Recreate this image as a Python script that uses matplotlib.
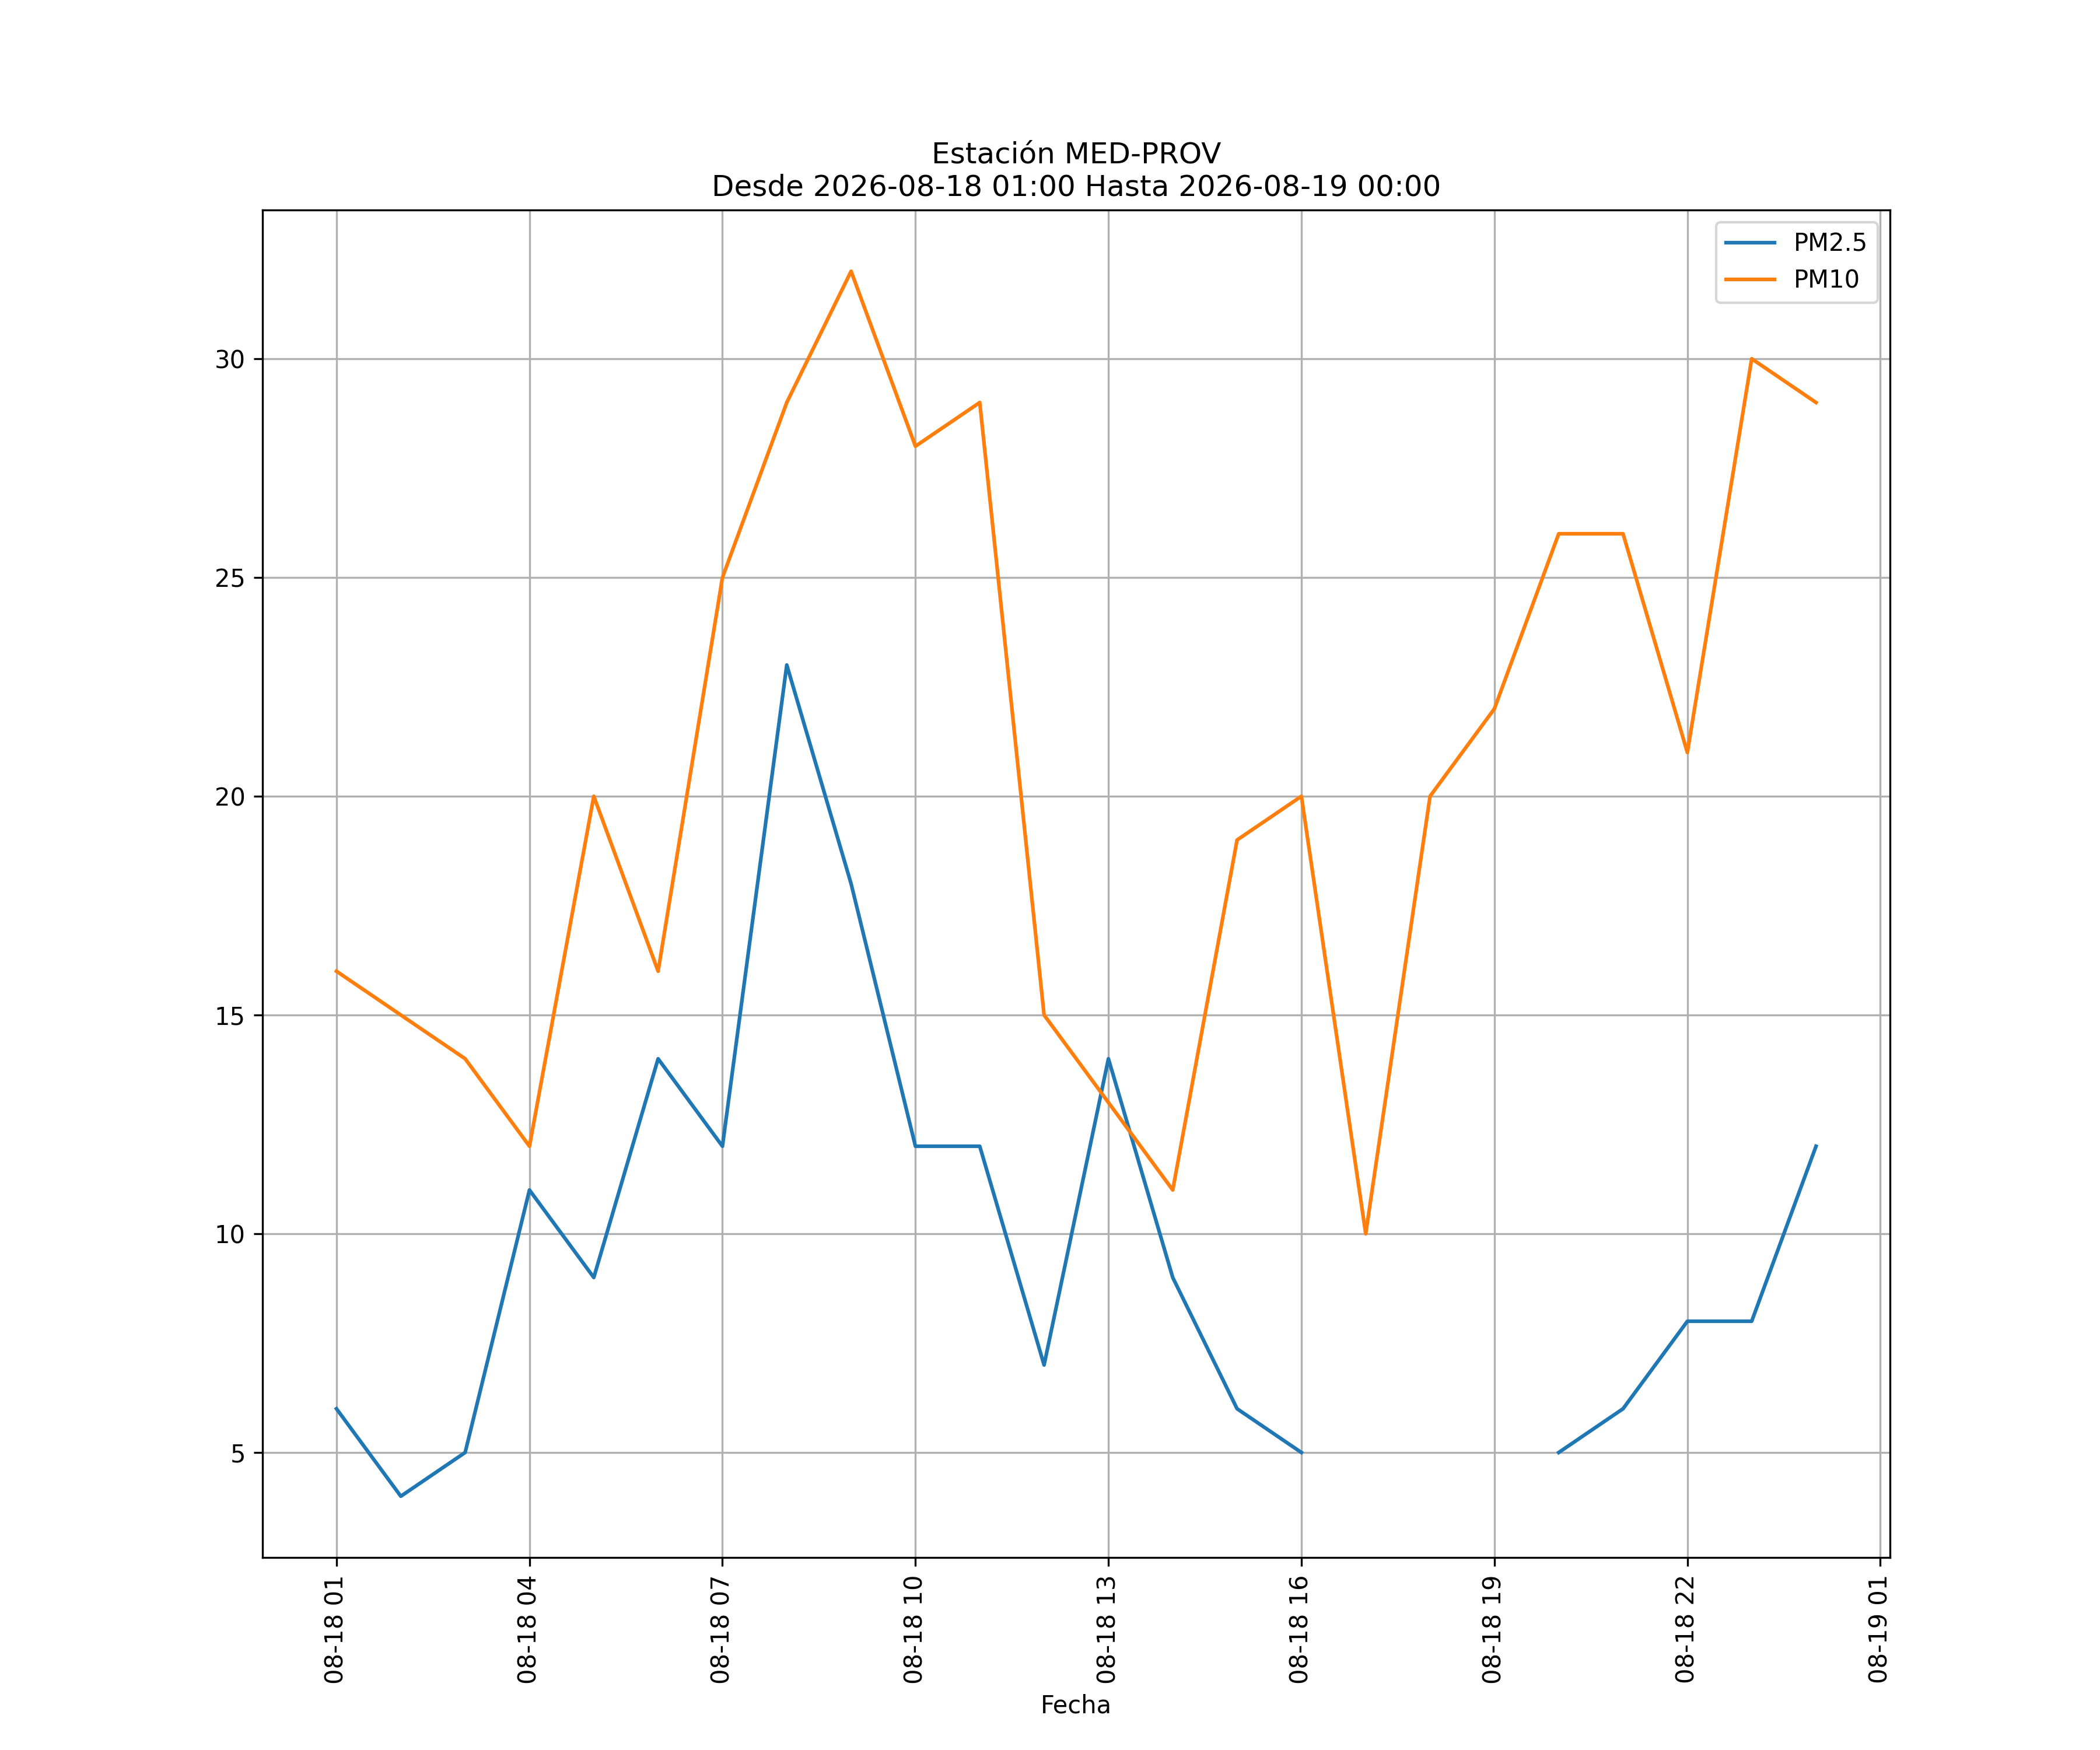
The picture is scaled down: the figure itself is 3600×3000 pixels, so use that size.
import numpy as np
import pandas as pd
import matplotlib
matplotlib.use("Agg")
import matplotlib.pyplot as plt
import matplotlib.dates as mdates

station = "MED-PROV"
times = pd.date_range("2026-08-18 01:00", "2026-08-19 00:00", freq="h")
pm25 = [6, 4, 5, 11, 9, 14, 12, 23, 18, 12, 12, 7, 14, 9, 6, 5,
        np.nan, np.nan, np.nan, 5, 6, 8, 8, 12]
pm10 = [16, 15, 14, 12, 20, 16, 25, 29, 32, 28, 29, 15, 13, 11, 19, 20,
        10, 20, 22, 26, 26, 21, 30, 29]

fig, ax = plt.subplots(figsize=(12, 10))
ax.plot(times, pm25, label="PM2.5")
ax.plot(times, pm10, label="PM10")
ax.xaxis.set_major_locator(mdates.HourLocator(byhour=range(1, 24, 3)))
ax.xaxis.set_major_formatter(mdates.DateFormatter("%m-%d %H"))
plt.setp(ax.get_xticklabels(), rotation=90)
ax.set_xlabel("Fecha")
ax.set_title(f"Estación {station}\nDesde 2026-08-18 01:00 Hasta 2026-08-19 00:00")
ax.grid(True)
ax.legend(loc="upper right")
fig.savefig("out.png", dpi=300)
